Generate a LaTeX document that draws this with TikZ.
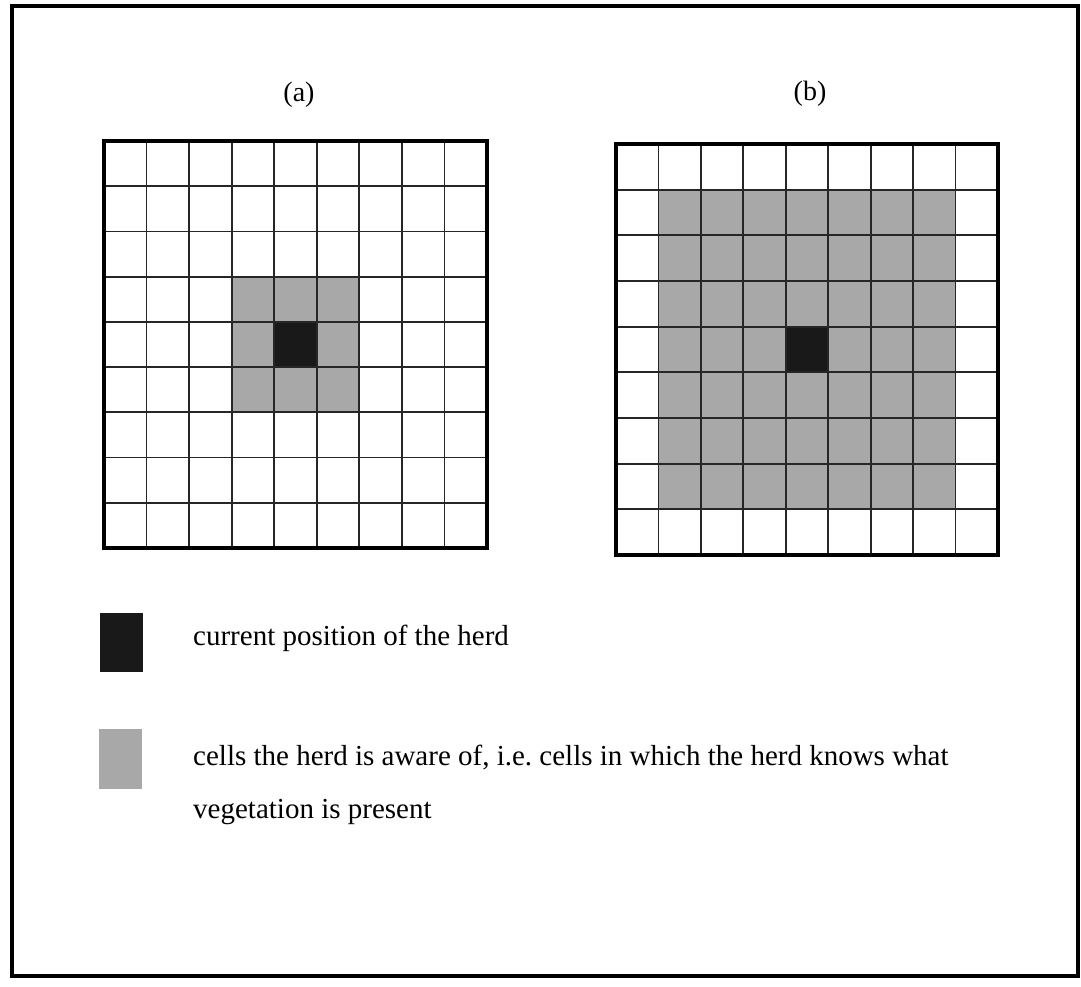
\documentclass[tikz,border=0pt]{standalone}
\usepackage{fontspec}
\setmainfont{Liberation Serif}
\frenchspacing
\begin{document}
\begin{tikzpicture}[x=1pt,y=-1pt,
  frame/.style={line width=4.5pt},
  gridline/.style={line width=1.8pt, black!85},
  aware/.style={fill=black!34},
  herd/.style={fill=black!90},
  lbl/.style={font=\fontsize{29}{34}\selectfont, inner sep=0pt, anchor=base west},
  captext/.style={font=\fontsize{28}{33}\selectfont, inner sep=0pt, anchor=base}]
\useasboundingbox (0,0) rectangle (1081,986);
% outer frame
\draw[line width=4pt] (12,6) rectangle (1078,976);

% ---------- grid (a) ----------
\begin{scope}[shift={(104,141)}, x=42.56pt, y=-45.22pt]
  \fill[aware] (3,3) rectangle (6,6);
  \fill[herd] (4,4) rectangle (5,5);
  \foreach \i in {1,...,8} {
    \draw[gridline] (\i,0) -- (\i,9);
    \draw[gridline] (0,\i) -- (9,\i);
  }
  \draw[frame] (0,0) rectangle (9,9);
  \coordinate (ga) at (0,0);
\end{scope}

% ---------- grid (b) ----------
\begin{scope}[shift={(616,144)}, x=42.44pt, y=-45.67pt]
  \fill[aware] (1,1) rectangle (8,8);
  \fill[herd] (4,4) rectangle (5,5);
  \foreach \i in {1,...,8} {
    \draw[gridline] (\i,0) -- (\i,9);
    \draw[gridline] (0,\i) -- (9,\i);
  }
  \draw[frame] (0,0) rectangle (9,9);
  \coordinate (gb) at (0,0);
\end{scope}

% captions
\node[captext] (capa) at (299,101) {(a)};
\node[captext] (capb) at (810,100) {(b)};

% legend
\fill[herd] (100,613) rectangle (143,672);
\fill[aware] (99,729) rectangle (142,789);
\node[lbl] (l1) at (193,645) {current position of the herd};
\node[lbl] (l2) at (193,765) {cells the herd is aware of, i.e. cells in which the herd knows what};
\node[lbl] (l3) at (193,818) {vegetation is present};
\end{tikzpicture}
\end{document}
